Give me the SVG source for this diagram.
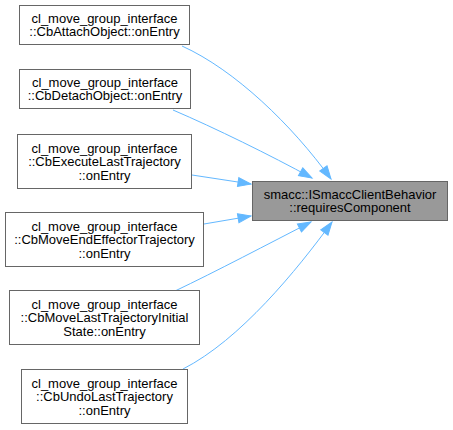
<svg xmlns="http://www.w3.org/2000/svg" width="453" height="430" viewBox="0 0 453 430">
<defs>
<style>
.node rect{fill:#ffffff;stroke:#666666;stroke-width:1}
.node.target rect{fill:#999999}
.node text{font-family:"Liberation Sans",Arial,Helvetica,sans-serif;font-size:13px;fill:#000000;text-anchor:middle}
.edge{fill:none;stroke:#63b8ff;stroke-width:1}
</style>
<marker id="ah" markerUnits="userSpaceOnUse" markerWidth="16" markerHeight="12" refX="14" refY="6" orient="auto" viewBox="0 0 16 12">
<path d="M1,1.5 L14,6 L1,10.5 Z" fill="#63b8ff" stroke="#63b8ff" stroke-width="1"/>
</marker>
</defs>
<rect x="0" y="0" width="453" height="430" fill="#ffffff"/>
<g id="connectors">
<path class="edge" marker-end="url(#ah)" d="M182,46 C235,70 292,125 331,179"/>
<path class="edge" marker-end="url(#ah)" d="M173,110 C215,128 270,155 312,178"/>
<path class="edge" marker-end="url(#ah)" d="M192,175 L251,184"/>
<path class="edge" marker-end="url(#ah)" d="M204,224 L251,216"/>
<path class="edge" marker-end="url(#ah)" d="M175,291 C215,272 270,243 311,222"/>
<path class="edge" marker-end="url(#ah)" d="M183,369 C240,340 297,270 332,222"/>
</g>
<g id="target" class="node target">
<rect x="252.5" y="181.5" width="195" height="39"/>
<text x="350" y="198.5">smacc::ISmaccClientBehavior</text>
<text x="350" y="212">::requiresComponent</text>
</g>
<g id="n1" class="node">
<rect x="19.5" y="5.5" width="170" height="39"/>
<text x="104.5" y="22.5">cl_move_group_interface</text>
<text x="104.5" y="36">::CbAttachObject::onEntry</text>
</g>
<g id="n2" class="node">
<rect x="19.5" y="69.5" width="171" height="39"/>
<text x="105" y="86.5">cl_move_group_interface</text>
<text x="105" y="100">::CbDetachObject::onEntry</text>
</g>
<g id="n3" class="node">
<rect x="17.5" y="134.5" width="174" height="54"/>
<text x="104.5" y="152.5">cl_move_group_interface</text>
<text x="104.5" y="166">::CbExecuteLastTrajectory</text>
<text x="104.5" y="179.5">::onEntry</text>
</g>
<g id="n4" class="node">
<rect x="5.5" y="212.5" width="198" height="54"/>
<text x="104.5" y="230.5">cl_move_group_interface</text>
<text x="104.5" y="244">::CbMoveEndEffectorTrajectory</text>
<text x="104.5" y="257.5">::onEntry</text>
</g>
<g id="n5" class="node">
<rect x="9.5" y="290.5" width="190" height="54"/>
<text x="104.5" y="308.5">cl_move_group_interface</text>
<text x="104.5" y="322">::CbMoveLastTrajectoryInitial</text>
<text x="104.5" y="335.5">State::onEntry</text>
</g>
<g id="n6" class="node">
<rect x="21.5" y="369.5" width="166" height="54"/>
<text x="104.5" y="387.5">cl_move_group_interface</text>
<text x="104.5" y="401">::CbUndoLastTrajectory</text>
<text x="104.5" y="414.5">::onEntry</text>
</g>
</svg>
